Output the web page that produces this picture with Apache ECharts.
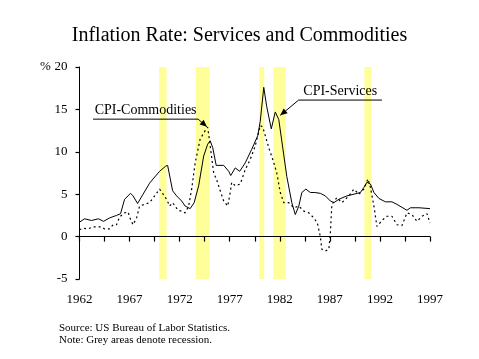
<!DOCTYPE html>
<html>
<head>
<meta charset="utf-8">
<script src="https://cdn.jsdelivr.net/npm/echarts@6/dist/echarts.min.js"></script>
<style>
html,body{margin:0;padding:0;background:#fff;}
#c{width:479px;height:359px;}
</style>
</head>
<body>
<div id="c"></div>
<script>
// ---- Data ----
const startYear = 1962;
const endYear = 1997;
const tickYears = [1962, 1967, 1972, 1977, 1982, 1987, 1992, 1997];

const servicesYears = [1962.0,1962.5,1963.2,1963.9,1964.4,1965.0,1965.7,1966.1,1966.5,1967.1,1967.35,1967.8,1968.35,1969.0,1969.35,1970.0,1970.6,1970.8,1971.3,1971.7,1972.2,1972.55,1973.05,1973.45,1973.9,1974.4,1974.8,1975.05,1975.3,1975.65,1976.4,1976.9,1977.1,1977.55,1978.0,1978.55,1979.2,1979.8,1980.05,1980.4,1980.7,1981.15,1981.55,1981.9,1982.7,1983.2,1983.55,1983.9,1984.2,1984.6,1985.05,1985.5,1986.05,1986.55,1987.05,1987.4,1987.9,1988.7,1989.4,1990.05,1990.4,1990.7,1991.05,1991.4,1991.9,1992.55,1993.2,1993.7,1994.7,1995.05,1995.9,1997.0];
const servicesValues = [1.7,2.1,1.9,2.1,1.8,2.2,2.5,2.7,4.4,5.1,4.8,3.9,5.0,6.3,6.8,7.7,8.3,8.4,5.4,4.8,4.2,3.6,3.3,4.0,6.0,9.5,10.9,11.3,10.5,8.4,8.4,7.7,7.2,8.1,7.7,8.7,10.3,11.9,13.6,17.6,15.3,12.7,14.7,13.8,7.1,4.0,2.6,3.6,5.2,5.6,5.2,5.2,5.1,4.8,4.2,4.0,4.4,4.8,5.0,5.2,5.8,6.4,6.2,5.2,4.5,4.1,4.1,3.8,3.1,3.4,3.4,3.3];

const commoditiesYears = [1962.0,1962.35,1962.85,1963.35,1964.2,1964.5,1965.0,1965.35,1965.7,1966.0,1966.5,1966.85,1967.1,1967.35,1967.7,1968.0,1968.5,1969.0,1969.5,1970.0,1970.35,1970.7,1971.0,1971.3,1971.85,1972.2,1972.55,1972.9,1973.2,1973.55,1974.05,1974.55,1974.8,1975.05,1975.4,1975.7,1976.05,1976.4,1976.8,1977.05,1977.2,1977.55,1978.05,1978.55,1979.05,1979.55,1980.05,1980.3,1980.65,1980.95,1981.3,1981.7,1982.05,1982.4,1982.9,1983.4,1983.9,1984.4,1984.9,1985.4,1985.75,1986.05,1986.2,1986.55,1986.9,1987.05,1987.2,1987.7,1988.2,1988.9,1989.4,1989.9,1990.4,1990.8,1991.05,1991.4,1991.7,1992.2,1992.7,1993.2,1993.7,1994.2,1994.7,1995.2,1995.7,1996.2,1996.7,1997.0];
const commoditiesValues = [0.8,1.0,0.9,1.15,1.15,0.9,0.9,1.4,1.4,2.3,2.8,2.9,2.0,1.4,2.2,3.6,3.8,4.0,4.8,5.6,5.0,4.4,3.6,4.0,3.1,3.0,2.8,3.6,5.6,8.7,11.5,12.5,12.9,10.7,7.5,6.7,5.4,4.2,3.6,5.2,6.4,6.0,6.2,7.9,9.1,10.7,13.1,12.9,11.5,10.3,9.1,7.5,5.2,4.0,4.0,3.4,3.6,3.0,2.8,2.2,1.6,0.0,-1.5,-1.7,-1.5,0.4,3.8,4.6,4.0,4.8,5.6,5.0,5.6,6.8,5.8,3.6,1.2,1.9,2.4,2.4,1.4,1.3,2.8,2.6,1.8,2.4,2.7,1.6];

const recessionStarts = [1969.95, 1973.6, 1979.95, 1981.35, 1990.45];
const recessionEnds   = [1970.7, 1975.0, 1980.45, 1982.6, 1991.15];

const yTicks = [-5, 0, 5, 10, 15, 20];

// ---- Chart ----
const FONT = '"Liberation Serif", "Times New Roman", serif';
const toPairs = (xs, ys) => xs.map((x, i) => [x - startYear, ys[i]]);
const span = endYear - startYear;
const W = 479, H = 359;

const chart = echarts.init(document.getElementById('c'), null, {renderer: 'canvas'});

const gridBox = {left: 79.5, right: 49, top: 67, bottom: 80};

const option = {
  animation: false,
  backgroundColor: '#fff',
  title: {
    text: 'Inflation Rate: Services and Commodities',
    left: 'center',
    top: 21,
    textStyle: {fontFamily: FONT, fontSize: 20, fontWeight: 'normal', color: '#000'}
  },
  grid: [
    Object.assign({}, gridBox),
    Object.assign({}, gridBox)
  ],
  xAxis: [
    {
      type: 'value', gridIndex: 0, min: 0, max: span, interval: 2.5,
      axisLine: {show: false, onZero: false},
      axisTick: {show: false},
      splitLine: {show: false},
      axisLabel: {
        margin: 14, color: '#000', fontFamily: FONT, fontSize: 13,
        formatter: v => (tickYears.indexOf(startYear + v) >= 0 ? String(startYear + v) : '')
      }
    },
    {
      type: 'value', gridIndex: 1, min: 0, max: span, interval: 2.5, z: 10,
      position: 'bottom',
      axisLine: {show: true, onZero: false, lineStyle: {color: '#000', width: 1}},
      axisTick: {show: true, length: 5, inside: false, lineStyle: {color: '#000', width: 1.2}},
      splitLine: {show: false},
      axisLabel: {show: false}
    }
  ],
  yAxis: [
    {
      type: 'value', gridIndex: 0, min: yTicks[0], max: yTicks[yTicks.length - 1], interval: 5,
      axisLine: {show: true, lineStyle: {color: '#000', width: 1}},
      axisTick: {show: true, length: 4, lineStyle: {color: '#000', width: 1.2}},
      splitLine: {show: false},
      axisLabel: {margin: 12, color: '#000', fontFamily: FONT, fontSize: 13}
    },
    {
      type: 'value', gridIndex: 1, min: 0, max: 1, show: false
    }
  ],
  series: [
    {
      name: 'recessions', type: 'line', xAxisIndex: 0, yAxisIndex: 0, data: [], z: 1, silent: true,
      markArea: {
        silent: true,
        itemStyle: {color: '#FFFF99', opacity: 1},
        data: recessionStarts.map((s, i) => [{xAxis: s - startYear}, {xAxis: recessionEnds[i] - startYear}])
      }
    },
    {
      name: 'CPI-Services', type: 'line', xAxisIndex: 0, yAxisIndex: 0, z: 3,
      data: toPairs(servicesYears, servicesValues),
      showSymbol: false, symbol: 'none',
      lineStyle: {color: '#000', width: 1}
    },
    {
      name: 'CPI-Commodities', type: 'line', xAxisIndex: 0, yAxisIndex: 0, z: 3,
      data: toPairs(commoditiesYears, commoditiesValues),
      showSymbol: false, symbol: 'none',
      lineStyle: {color: '#000', width: 1.2, type: [2, 3]}
    }
  ]
};
chart.setOption(option);

// place the tick-bearing axis of grid 1 exactly on the value 0 of grid 0
const zeroY = chart.convertToPixel({yAxisIndex: 0}, 0);
chart.setOption({grid: [{}, {bottom: H - zeroY}]});

// ---- Annotations (positioned in data space) ----
function px(year, val) {
  return chart.convertToPixel({gridIndex: 0}, [year - startYear, val]);
}
function arrowHead(p0, p1, size) {
  const a = Math.atan2(p1[1] - p0[1], p1[0] - p0[0]);
  const w = size * 0.45;
  const bx = p1[0] - size * Math.cos(a), by = p1[1] - size * Math.sin(a);
  return [
    [p1[0], p1[1]],
    [bx + w * Math.sin(a), by - w * Math.cos(a)],
    [bx - w * Math.sin(a), by + w * Math.cos(a)]
  ];
}
const lineStyle = {stroke: '#000', lineWidth: 1};

const cA = px(1963.35, 13.85), cB = px(1973.85, 13.85), cC = px(1974.72, 12.95);
const sA = px(1992.2, 16.1), sB = px(1983.88, 16.1), sC = px(1982.05, 14.3);

const graphics = [
  {type: 'polyline', shape: {points: [cA, cB, cC]}, style: lineStyle, z: 20},
  {type: 'polygon', shape: {points: arrowHead(cB, cC, 7)}, style: {fill: '#000'}, z: 20},
  {type: 'text', x: (cA[0] + cB[0]) / 2, y: cA[1] - 2, z: 20,
   style: {text: 'CPI-Commodities', fontFamily: FONT, fontSize: 14, fill: '#000', align: 'center', verticalAlign: 'bottom'}},
  {type: 'polyline', shape: {points: [sA, sB, sC]}, style: lineStyle, z: 20},
  {type: 'polygon', shape: {points: arrowHead(sB, sC, 7)}, style: {fill: '#000'}, z: 20},
  {type: 'text', x: (sA[0] + sB[0]) / 2, y: sA[1] - 2, z: 20,
   style: {text: 'CPI-Services', fontFamily: FONT, fontSize: 14, fill: '#000', align: 'center', verticalAlign: 'bottom'}},
  {type: 'text', left: 40, top: 60, z: 20,
   style: {text: '%', fontFamily: FONT, fontSize: 13, fill: '#000'}},
  {type: 'text', left: 59, top: 323, z: 20,
   style: {text: 'Source: US Bureau of Labor Statistics.', fontFamily: FONT, fontSize: 11, fill: '#000'}},
  {type: 'text', left: 59, top: 335, z: 20,
   style: {text: 'Note: Grey areas denote recession.', fontFamily: FONT, fontSize: 11, fill: '#000'}}
];
chart.setOption({graphic: graphics});
</script>
</body>
</html>
